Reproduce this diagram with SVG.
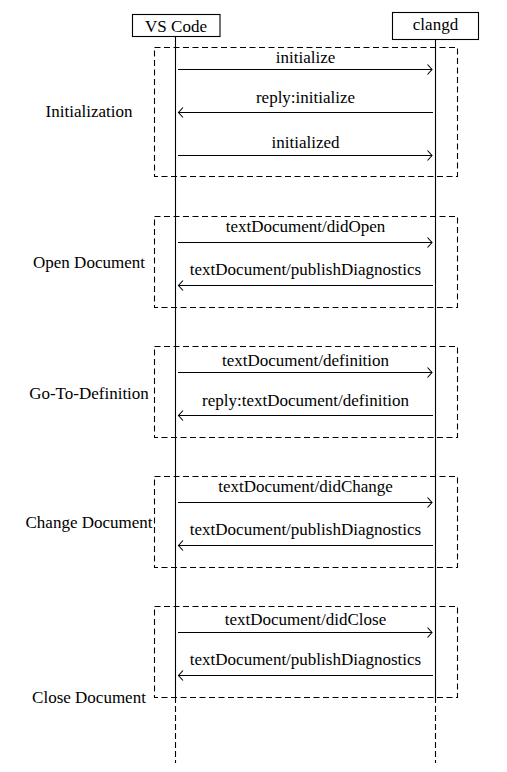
<svg xmlns="http://www.w3.org/2000/svg" width="507" height="772" viewBox="0 0 507 772">
<style>
text{font-family:"Liberation Serif","Times New Roman",serif;font-size:17px;fill:#000;text-anchor:middle}
.box{fill:#fff;stroke:#000;stroke-width:1.1}
.life{stroke:#000;stroke-width:1.1;fill:none}
.lifed{stroke:#000;stroke-width:1.1;fill:none;stroke-dasharray:6 3}
.grp{fill:none;stroke:#000;stroke-width:1.1;stroke-dasharray:6 3.5}
.msg{stroke:#000;stroke-width:1.1;fill:none;marker-end:url(#arr)}
</style>
<defs>
<marker id="arr" markerUnits="userSpaceOnUse" markerWidth="8" markerHeight="12" viewBox="-6 -6 8 12" refX="0" refY="0" orient="auto">
<path d="M-4.5,-5 L0,0 L-4.5,5" fill="none" stroke="#000" stroke-width="1.1"/>
</marker>
</defs>
<rect width="507" height="772" fill="#fff"/>
<g id="lifelines">
<line class="life" x1="175.5" y1="36.7" x2="175.5" y2="697"/>
<line class="lifed" x1="175.5" y1="697" x2="175.5" y2="763"/>
<line class="life" x1="435.5" y1="39.3" x2="435.5" y2="697"/>
<line class="lifed" x1="435.5" y1="697" x2="435.5" y2="763"/>
</g>
<g id="vscode">
<rect class="box" x="132.5" y="14.5" width="87.5" height="22"/>
<text x="176" y="31.5">VS Code</text>
</g>
<g id="clangd">
<rect class="box" x="392.5" y="12.5" width="86" height="27"/>
<text x="435.5" y="30">clangd</text>
</g>
<g id="grp-init">
<rect class="grp" x="154.5" y="47.5" width="303" height="129"/>
<text x="89" y="117.3">Initialization</text>
</g>
<g id="grp-open">
<rect class="grp" x="154.5" y="216.5" width="303" height="91"/>
<text x="89" y="268">Open Document</text>
</g>
<g id="grp-def">
<rect class="grp" x="154.5" y="346.5" width="303" height="91"/>
<text x="89" y="399.3">Go-To-Definition</text>
</g>
<g id="grp-change">
<rect class="grp" x="154.5" y="476.5" width="303" height="91"/>
<text x="89" y="528">Change Document</text>
</g>
<g id="grp-close">
<rect class="grp" x="154.5" y="606.5" width="303" height="91"/>
<text x="89" y="703">Close Document</text>
</g>
<g id="connectors">
<line class="msg" x1="178" y1="69.5" x2="432" y2="69.5"/>
<text x="305.5" y="62.7">initialize</text>
<line class="msg" x1="433" y1="112.5" x2="178.5" y2="112.5"/>
<text x="305.5" y="102.7">reply:initialize</text>
<line class="msg" x1="178" y1="155.5" x2="432" y2="155.5"/>
<text x="305.5" y="148.3">initialized</text>
<line class="msg" x1="178" y1="242.5" x2="432" y2="242.5"/>
<text x="305.5" y="231.7">textDocument/didOpen</text>
<line class="msg" x1="433" y1="285.5" x2="178.5" y2="285.5"/>
<text x="305.5" y="274.7">textDocument/publishDiagnostics</text>
<line class="msg" x1="178" y1="372.5" x2="432" y2="372.5"/>
<text x="305.5" y="365.5">textDocument/definition</text>
<line class="msg" x1="433" y1="415.5" x2="178.5" y2="415.5"/>
<text x="305.5" y="405.5">reply:textDocument/definition</text>
<line class="msg" x1="178" y1="502.5" x2="432" y2="502.5"/>
<text x="305.5" y="491.7">textDocument/didChange</text>
<line class="msg" x1="433" y1="545.5" x2="178.5" y2="545.5"/>
<text x="305.5" y="535">textDocument/publishDiagnostics</text>
<line class="msg" x1="178" y1="632.5" x2="432" y2="632.5"/>
<text x="305.5" y="625">textDocument/didClose</text>
<line class="msg" x1="433" y1="675.5" x2="178.5" y2="675.5"/>
<text x="305.5" y="665">textDocument/publishDiagnostics</text>
</g>
</svg>
